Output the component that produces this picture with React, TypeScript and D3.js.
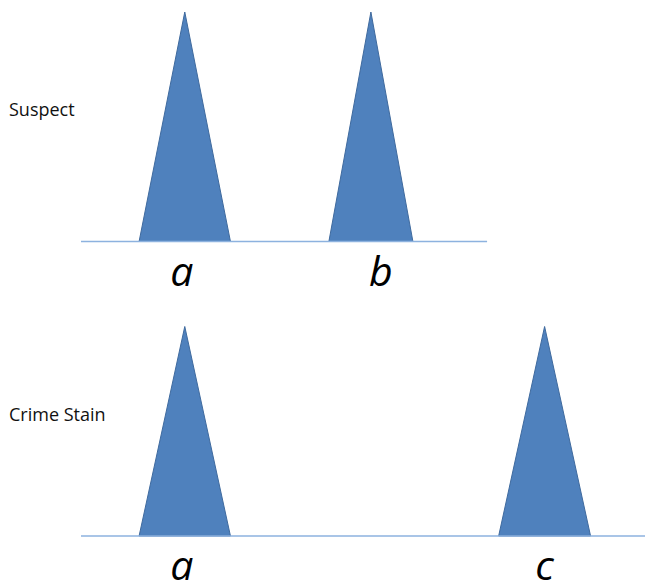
import React, { useEffect, useRef } from 'react';
import * as d3 from 'd3';

// Peak profile data (x in allele-position units, height relative)
const panelNames = ['Suspect', 'Crime Stain'];
const suspectAlleles = ['a', 'b'];
const suspectPositions = [18.4, 51.4];
const suspectWidths = [16.2, 14.9];
const suspectHeights = [1, 1];
const crimeAlleles = ['a', 'c'];
const crimePositions = [18.4, 82.2];
const crimeWidths = [16.2, 16.3];
const crimeHeights = [1, 1];
const axisEnds = [72, 100];

const W = 645;
const H = 583;

const App = () => {
  const ref = useRef<SVGSVGElement>(null);

  useEffect(() => {
    const svg = d3.select(ref.current);
    svg.selectAll('*').remove();

    const x = d3.scaleLinear().domain([0, 100]).range([81, 645]);

    const panels = [
      { name: panelNames[0], alleles: suspectAlleles, pos: suspectPositions, wid: suspectWidths, hgt: suspectHeights, base: 241.5, top: 12, labelY: 286, nameY: 115.5, end: axisEnds[0], shift: [-3, 10] },
      { name: panelNames[1], alleles: crimeAlleles, pos: crimePositions, wid: crimeWidths, hgt: crimeHeights, base: 536, top: 326.5, labelY: 580, nameY: 420.5, end: axisEnds[1], shift: [-3, 0] },
    ];

    panels.forEach(p => {
      const y = d3.scaleLinear().domain([0, 1]).range([p.base, p.top]);
      const g = svg.append('g');

      g.append('text')
        .attr('x', 9)
        .attr('y', p.nameY)
        .attr('font-family', '"Open Sans", sans-serif')
        .attr('font-size', 18)
        .attr('fill', '#111')
        .text(p.name);

      const peaks = p.alleles.map((a, i) => ({ allele: a, pos: p.pos[i], w: p.wid[i], h: p.hgt[i], shift: p.shift[i] }));

      const line = d3.line<[number, number]>();
      g.selectAll('path.peak')
        .data(peaks)
        .enter()
        .append('path')
        .attr('class', 'peak')
        .attr('d', d => line([
          [x(d.pos - d.w / 2), y(0)],
          [x(d.pos), y(d.h)],
          [x(d.pos + d.w / 2), y(0)],
        ]) + 'Z')
        .attr('fill', '#4F81BD')
        .attr('stroke', '#3F6A9E')
        .attr('stroke-width', 1);

      g.append('line')
        .attr('x1', x(0))
        .attr('x2', x(p.end))
        .attr('y1', y(0))
        .attr('y2', y(0))
        .attr('stroke', '#8DB2DF')
        .attr('stroke-width', 1.5);

      g.selectAll('text.allele')
        .data(peaks)
        .enter()
        .append('text')
        .attr('class', 'allele')
        .attr('x', d => x(d.pos) + d.shift)
        .attr('y', p.labelY)
        .attr('text-anchor', 'middle')
        .attr('font-family', '"Open Sans", sans-serif')
        .attr('font-style', 'italic')
        .attr('font-size', 41)
        .attr('fill', '#000')
        .text(d => d.allele);
    });
  }, []);

  return (
    <svg ref={ref} width={W} height={H} style={{ position: 'absolute', left: 0, top: 0, background: '#fff' }}></svg>
  );
};

export default App;
